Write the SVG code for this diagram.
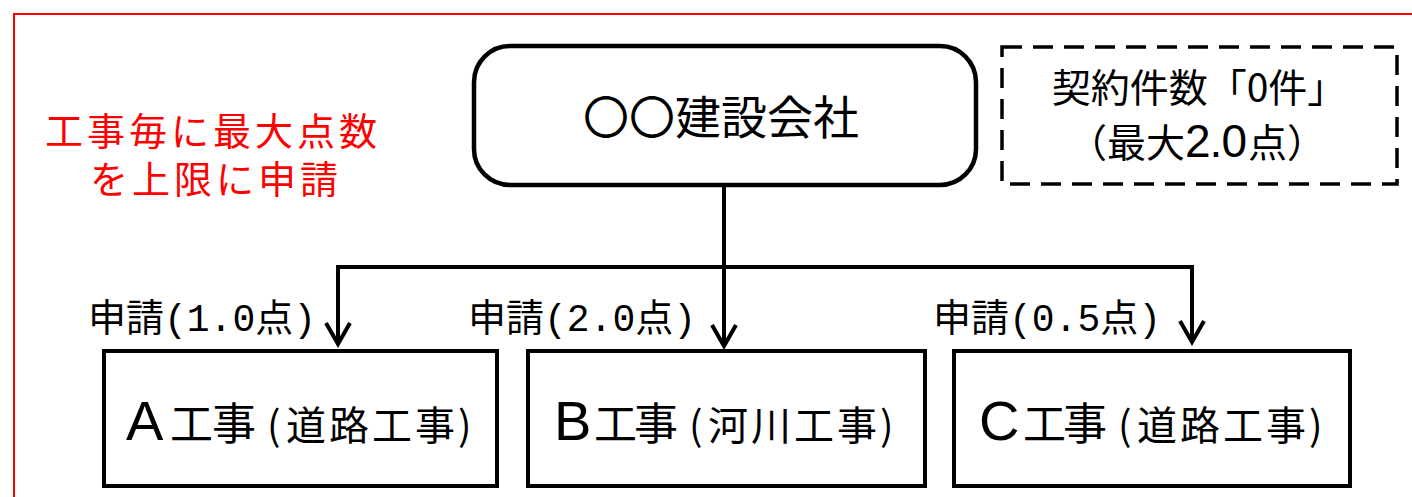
<svg xmlns="http://www.w3.org/2000/svg" width="1412" height="497" viewBox="0 0 1412 497">
<defs>
<style>
.jp{font-family:"Noto Sans CJK JP","Noto Sans CJK SC",sans-serif;}
.lat{font-family:"Liberation Sans","Noto Sans CJK JP",sans-serif;}
.mono{font-family:"Liberation Mono","Noto Sans CJK JP",monospace;font-size:38px;fill:#000;}
.box{fill:#fff;stroke:#000;stroke-width:4;}
.conn{fill:none;stroke:#000;stroke-width:4;}
.red{fill:#ff0000;font-size:38px;letter-spacing:4px;}
</style>
<marker id="arr" markerUnits="userSpaceOnUse" viewBox="-26 -16 30 32" refX="0" refY="0" markerWidth="30" markerHeight="32" orient="auto">
<path d="M-21,-12 L0,0 L-21,12" fill="none" stroke="#000" stroke-width="4" stroke-linejoin="miter"/>
</marker>
</defs>
<rect width="1412" height="497" fill="#fff"/>
<rect id="frame" x="14" y="14" width="1420" height="500" fill="none" stroke="#ff0000" stroke-width="2"/>
<g id="note">
<text class="jp red"><tspan x="45" y="145">工事毎に最大点数</tspan><tspan x="90" y="193">を上限に申請</tspan></text>
</g>
<g id="company">
<rect x="474" y="46" width="502" height="139" rx="36" ry="36" fill="#fff" stroke="#000" stroke-width="4.5"/>
<text class="jp" x="721" y="134" font-size="46" text-anchor="middle">〇〇建設会社</text>
</g>
<g id="contract">
<rect x="1002" y="47" width="395" height="137" fill="none" stroke="#000" stroke-width="3.5" stroke-dasharray="20 11"/>
<text class="jp" x="1199" y="102" font-size="39" text-anchor="middle">契約件数「0件」</text>
<text x="1197" y="157" text-anchor="middle"><tspan class="jp" font-size="39">（最大</tspan><tspan class="lat" font-size="46" letter-spacing="-1">2.0</tspan><tspan class="jp" font-size="39" dx="2">点）</tspan></text>
</g>
<g id="connectors">
<path class="conn" d="M724,185 V346" marker-end="url(#arr)"/>
<path class="conn" d="M724,267 H338 V344" marker-end="url(#arr)"/>
<path class="conn" d="M724,267 H1192 V342" marker-end="url(#arr)"/>
</g>
<g id="labels">
<text class="mono" x="88" y="331">申請(1.0点)</text>
<text class="mono" x="468" y="331">申請(2.0点)</text>
<text class="mono" x="933" y="331">申請(0.5点)</text>
</g>
<g id="nodeA" transform="translate(104,0)">
<rect class="box" x="0" y="351" width="393" height="135"/>
<text y="440"><tspan class="lat" x="22" font-size="56">A</tspan><tspan class="jp" x="66" font-size="43">工</tspan><tspan class="jp" x="108" font-size="44">事</tspan><tspan class="jp" x="163" font-size="40">(</tspan><tspan class="jp" x="182" font-size="40" letter-spacing="3">道路工事</tspan><tspan class="jp" x="354" font-size="40">)</tspan></text>
</g>
<g id="nodeB" transform="translate(528,0)">
<rect class="box" x="0" y="351" width="397" height="135"/>
<text y="440"><tspan class="lat" x="26" font-size="56">B</tspan><tspan class="jp" x="66" font-size="43">工</tspan><tspan class="jp" x="106" font-size="44">事</tspan><tspan class="jp" x="161" font-size="40">(</tspan><tspan class="jp" x="180" font-size="40" letter-spacing="3">河川工事</tspan><tspan class="jp" x="352" font-size="40">)</tspan></text>
</g>
<g id="nodeC" transform="translate(954,0)">
<rect class="box" x="0" y="351" width="396" height="135"/>
<text y="440"><tspan class="lat" x="25" font-size="56">C</tspan><tspan class="jp" x="69" font-size="43">工</tspan><tspan class="jp" x="109" font-size="44">事</tspan><tspan class="jp" x="164" font-size="40">(</tspan><tspan class="jp" x="183" font-size="40" letter-spacing="3">道路工事</tspan><tspan class="jp" x="355" font-size="40">)</tspan></text>
</g>
</svg>
